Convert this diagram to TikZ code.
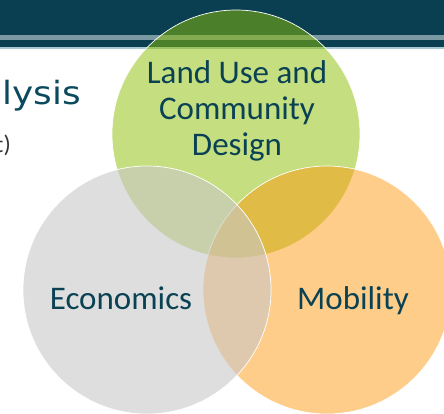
\documentclass[tikz,border=0pt]{standalone}
\usepackage{fontspec}
\newfontfamily\carl{Carlito}
\newfontfamily\titlef[FakeStretch=1.12]{DejaVu Sans}
\definecolor{band}{HTML}{0A3F51}
\definecolor{stripe}{HTML}{7A99A3}
\definecolor{bandline}{HTML}{A9CAD2}
\definecolor{vgreen}{RGB}{141,190,4}
\definecolor{vorange}{RGB}{255,149,6}
\definecolor{vgray}{RGB}{200,200,200}
\definecolor{txt}{HTML}{0A4254}
\definecolor{titlec}{HTML}{0B4A5E}
\definecolor{subc}{HTML}{333333}
\tikzset{
  venn/.style={circle, minimum size=248pt, inner sep=0pt, draw=white, line width=0.7pt},
  lbl/.style={font=\carl\fontsize{33}{36}\selectfont, text=txt, inner sep=0pt},
  titletext/.style={font=\titlef\fontsize{32}{36}\selectfont, text=titlec, inner sep=0pt},
  subtext/.style={font=\carl\fontsize{24}{28}\selectfont, text=subc, inner sep=0pt}
}
\begin{document}
\begin{tikzpicture}[x=1pt,y=-1pt]
\useasboundingbox (0,0) rectangle (444,413);
\fill[band] (0,0) rectangle (444,48);
\fill[stripe] (0,35) rectangle (444,40);
\fill[bandline] (0,47.3) rectangle (444,48.8);
\node[titletext, anchor=base east] (title) at (81,104) {lysis};
\node[subtext, anchor=base east] (sub) at (11,152) {t)};
\node[venn, fill=vgreen, fill opacity=0.51] (land) at (236,134) {};
\node[venn, fill=vorange, fill opacity=0.47] (mobc) at (327,290) {};
\node[venn, fill=vgray, fill opacity=0.6] (econc) at (147,290) {};
\node[lbl, align=center, anchor=base] (landtxt) at (237,155) {Land Use and\\Community\\Design};
\node[lbl, anchor=base] (econ) at (121,309) {Economics};
\node[lbl, anchor=base] (mob) at (353,309) {Mobility};
\end{tikzpicture}
\end{document}
